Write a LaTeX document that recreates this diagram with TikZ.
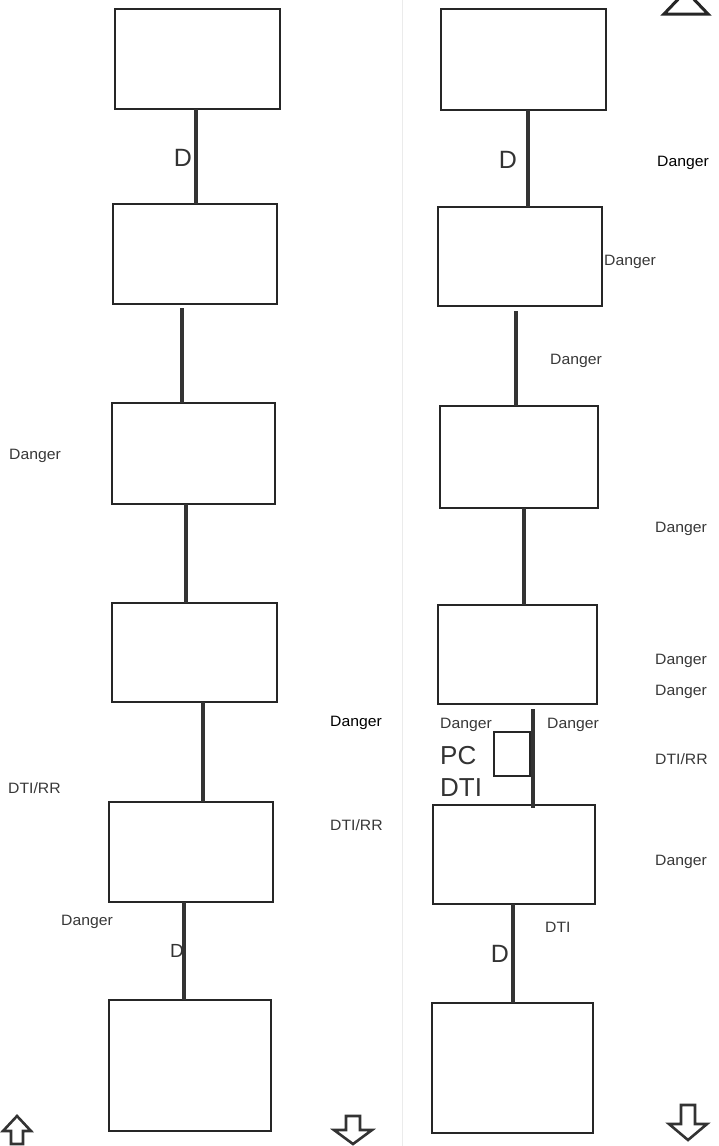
\documentclass[tikz,border=0pt]{standalone}
\usepackage{fontspec}
\setmainfont{Liberation Sans}
\newfontfamily\labfont[FakeStretch=1.05]{Liberation Sans}
\begin{document}
\begin{tikzpicture}[x=1pt,y=-1pt,
  box/.style={draw=black!85,line width=1.5pt,rectangle,inner sep=0pt,outer sep=0pt,anchor=north west,fill=none},
  conn/.style={draw=black!80,line width=4.6pt},
  lab/.style={font=\labfont\fontsize{15}{16}\selectfont,text=black!78,inner sep=0pt,anchor=west},
  labdark/.style={lab,text=black},
  big/.style={font=\fontsize{26}{28}\selectfont,text=black!80,inner sep=0pt,anchor=west},
  dlab/.style={font=\fontsize{25}{27}\selectfont,text=black!80,inner sep=0pt},
  arrowshape/.style={draw=black!80,line width=2.6pt,line join=miter}]
\useasboundingbox (0,0) rectangle (718,1146);
\fill[white] (0,0) rectangle (718,1146);
% faint scan divider
\draw[black!8,line width=1pt] (402,0) -- (402,1146);

% ---------- left column ----------
\node[box,minimum width=165pt,minimum height=100pt] (L1) at (115,9) {};
\node[box,minimum width=164pt,minimum height=100pt] (L2) at (113,204) {};
\node[box,minimum width=163pt,minimum height=101pt] (L3) at (112,403) {};
\node[box,minimum width=165pt,minimum height=99pt] (L4) at (112,603) {};
\node[box,minimum width=164pt,minimum height=100pt] (L5) at (109,802) {};
\node[box,minimum width=162pt,minimum height=131pt] (L6) at (109,1000) {};

\node[dlab] (dL1) at (183,158) {D};
\node[dlab,font=\fontsize{19}{20}\selectfont] (dL5) at (177,951) {D};

\draw[conn] ([xshift=-1.5pt]L1.south) -- ([xshift=-1.5pt]L1.south |- L2.north);
\draw[conn] ([xshift=-13pt,yshift=-4pt]L2.south) -- ([xshift=-13pt]L2.south |- L3.north);
\draw[conn] ([xshift=-7.5pt]L3.south) -- ([xshift=-7.5pt]L3.south |- L4.north);
\draw[conn] ([xshift=8.5pt]L4.south) -- ([xshift=8.5pt]L4.south |- L5.north);
\draw[conn] ([xshift=-7pt]L5.south) -- ([xshift=-7pt]L5.south |- L6.north);

\node[lab] (t1) at (9,456) {Danger};
\node[lab] (t2) at (8,788) {DTI/RR};
\node[lab] (t3) at (61,922) {Danger};
\node[labdark] (t4) at (330,723) {Danger};
\node[lab] (t5) at (330,825) {DTI/RR};

% ---------- right column ----------
\node[box,minimum width=165pt,minimum height=101pt] (R1) at (441,9) {};
\node[box,minimum width=164pt,minimum height=99pt] (R2) at (438,207) {};
\node[box,minimum width=158pt,minimum height=102pt] (R3) at (440,406) {};
\node[box,minimum width=159pt,minimum height=99pt] (R4) at (438,605) {};
\node[box,minimum width=162pt,minimum height=99pt] (R5) at (433,805) {};
\node[box,minimum width=161pt,minimum height=130pt] (R6) at (432,1003) {};
\node[box,minimum width=36pt,minimum height=44pt] (PC) at (494,732) {};

\node[dlab] (dR1) at (508,160) {D};
\node[dlab] (dR5) at (500,954) {D};

\draw[conn] ([xshift=4.5pt]R1.south) -- ([xshift=4.5pt]R1.south |- R2.north);
\draw[conn,line width=4pt] ([xshift=-4pt,yshift=-5pt]R2.south) -- ([xshift=-4pt]R2.south |- R3.north);
\draw[conn] ([xshift=5pt]R3.south) -- ([xshift=5pt]R3.south |- R4.north);
\draw[conn,line width=4pt] ([xshift=15.5pt,yshift=-5pt]R4.south) -- ([xshift=15.5pt,yshift=-3pt]R4.south |- R5.north);
\draw[conn] ([xshift=-1pt]R5.south) -- ([xshift=-1pt]R5.south |- R6.north);

\node[labdark] (s1) at (657,163) {Danger};
\node[lab] (s2) at (604,262) {Danger};
\node[lab] (s3) at (550,361) {Danger};
\node[lab] (s4) at (655,529) {Danger};
\node[lab] (s5) at (655,661) {Danger};
\node[lab] (s6) at (655,692) {Danger};
\node[lab] (s7) at (440,725) {Danger};
\node[lab] (s8) at (547,725) {Danger};
\node[lab] (s9) at (655,759) {DTI/RR};
\node[lab] (s10) at (655,862) {Danger};
\node[lab] (s11) at (545,927) {DTI};
\node[big] (pc) at (440,756) {PC};
\node[big] (dti) at (440,788) {DTI};

% ---------- arrows and triangle ----------
\draw[arrowshape] (11,1144) -- (11,1131) -- (3,1131) -- (17,1116) -- (31,1131) -- (23,1131) -- (23,1144) -- cycle;
\draw[arrowshape] (346,1116) -- (346,1130) -- (334,1130) -- (353,1144) -- (372,1130) -- (360,1130) -- (360,1116) -- cycle;
\draw[arrowshape] (681,1105) -- (681,1124) -- (669,1124) -- (688,1140) -- (707,1124) -- (695,1124) -- (695,1105) -- cycle;
\draw[draw=black!85,line width=3pt,line join=miter] (664,14) -- (686,-9) -- (708,14) -- cycle;
\end{tikzpicture}
\end{document}
